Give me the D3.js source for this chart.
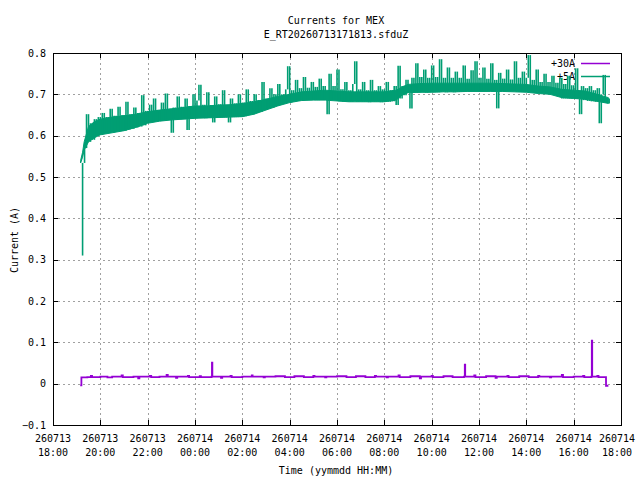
<!DOCTYPE html>
<html>
<head>
<meta charset="utf-8">
<script src="https://cdn.jsdelivr.net/npm/d3@7"></script>
<style>
  body { margin: 0; background: #fff; }
  text { font-family: "DejaVu Sans Mono", "Liberation Mono", monospace; font-size: 10px; fill: #000; }
</style>
</head>
<body>
<svg id="chart" width="640" height="480"></svg>
<script>
//DATA//////////////////////////////////
var titleLines = ["Currents for MEX", "E_RT20260713171813.sfduZ"];
var seriesNames = ["+30A", "+5A"];
var seriesColors = ["#9400d3", "#009e73"];
var yTicks = [-0.1, 0, 0.1, 0.2, 0.3, 0.4, 0.5, 0.6, 0.7, 0.8];
var tStart = new Date(2026, 6, 13, 18, 0);
var tEnd = new Date(2026, 6, 14, 18, 0);

// +5A current, one reading every 5 minutes from 260713 19:10
var plus5Start = new Date(2026, 6, 13, 19, 10);
var plus5 = [
  0.31, 0.534, 0.57, 0.652, 0.585, 0.63, 0.59, 0.64, 0.60, 0.645,                  // 19:10
  0.603, 0.655, 0.605, 0.645, 0.607, 0.665, 0.608, 0.648, 0.61, 0.67, 0.611, 0.65, // 20:00
  0.612, 0.682, 0.615, 0.652, 0.617, 0.668, 0.62, 0.655, 0.622, 0.698, 0.625, 0.66, // 21:00
  0.632, 0.675, 0.634, 0.69, 0.635, 0.662, 0.636, 0.68, 0.637, 0.702, 0.638, 0.665, // 22:00
  0.607, 0.668, 0.639, 0.695, 0.64, 0.67, 0.64, 0.69, 0.614, 0.672, 0.641, 0.70,   // 23:00
  0.642, 0.685, 0.723, 0.643, 0.675, 0.642, 0.705, 0.643, 0.674, 0.632, 0.695, 0.643, // 00:00
  0.676, 0.644, 0.71, 0.644, 0.674, 0.632, 0.69, 0.645, 0.678, 0.645, 0.70, 0.646, // 01:00
  0.68, 0.647, 0.712, 0.65, 0.684, 0.652, 0.70, 0.655, 0.686, 0.658, 0.73, 0.662,  // 02:00
  0.69, 0.666, 0.715, 0.668, 0.70, 0.672, 0.725, 0.675, 0.70, 0.678, 0.712, 0.768, // 03:00
  0.68, 0.71, 0.682, 0.735, 0.684, 0.715, 0.685, 0.742, 0.686, 0.716, 0.686, 0.73, // 04:00
  0.686, 0.718, 0.686, 0.738, 0.687, 0.72, 0.686, 0.652, 0.75, 0.686, 0.72, 0.686, // 05:00
  0.76, 0.683, 0.712, 0.682, 0.73, 0.682, 0.71, 0.682, 0.725, 0.78, 0.682, 0.712,  // 06:00
  0.682, 0.73, 0.682, 0.71, 0.681, 0.735, 0.682, 0.71, 0.682, 0.72, 0.681, 0.712,  // 07:00
  0.682, 0.73, 0.682, 0.71, 0.683, 0.72, 0.674, 0.769, 0.69, 0.72, 0.698, 0.735,   // 08:00
  0.704, 0.666, 0.74, 0.705, 0.775, 0.704, 0.742, 0.705, 0.76, 0.704, 0.74, 0.705, // 09:00
  0.77, 0.705, 0.742, 0.705, 0.785, 0.706, 0.74, 0.705, 0.765, 0.706, 0.74, 0.705, // 10:00
  0.755, 0.706, 0.74, 0.706, 0.77, 0.707, 0.738, 0.706, 0.758, 0.707, 0.78, 0.706, // 11:00
  0.74, 0.707, 0.765, 0.707, 0.738, 0.708, 0.775, 0.707, 0.735, 0.666, 0.752, 0.707, // 12:00
  0.738, 0.707, 0.76, 0.707, 0.736, 0.707, 0.78, 0.706, 0.74, 0.706, 0.755, 0.706, // 13:00
  0.74, 0.795, 0.705, 0.735, 0.704, 0.76, 0.703, 0.73, 0.702, 0.75, 0.701, 0.73,   // 14:00
  0.70, 0.745, 0.70, 0.728, 0.698, 0.74, 0.69, 0.725, 0.69, 0.745, 0.69, 0.722,    // 15:00
  0.69, 0.763, 0.689, 0.652, 0.72, 0.686, 0.715, 0.684, 0.72, 0.683, 0.71, 0.682,  // 16:00
  0.715, 0.63, 0.70, 0.747, 0.68, 0.69, 0.678                                     // 17:00
];

// dense core of the +5A trace: hours after 18:00, lower and upper edge (A)
var plus5BandHours = [1.17, 1.25, 1.33, 1.5, 1.75, 2.0, 2.5, 3.0, 3.5, 4.0, 4.5, 5.0, 5.5, 6.0, 6.5,
  7.0, 7.5, 8.0, 8.5, 9.0, 9.5, 10.0, 10.5, 11.0, 11.5, 12.0, 12.5, 13.0, 13.5, 14.0, 14.5, 14.75,
  15.0, 15.5, 16.0, 16.5, 17.0, 17.5, 18.0, 18.5, 19.0, 19.5, 20.0, 20.5, 21.0, 21.5, 22.0, 22.5,
  23.0, 23.48];
var plus5BandLo = [0.534, 0.548, 0.565, 0.585, 0.595, 0.602, 0.607, 0.612, 0.62, 0.63, 0.635, 0.638,
  0.64, 0.642, 0.643, 0.644, 0.645, 0.646, 0.652, 0.662, 0.672, 0.68, 0.685, 0.686, 0.686, 0.684,
  0.682, 0.682, 0.682, 0.682, 0.686, 0.698, 0.704, 0.705, 0.705, 0.706, 0.706, 0.707, 0.707, 0.707,
  0.707, 0.706, 0.705, 0.702, 0.70, 0.692, 0.69, 0.688, 0.683, 0.678];
var plus5BandHi = [0.54, 0.56, 0.585, 0.622, 0.634, 0.64, 0.645, 0.648, 0.652, 0.658, 0.662, 0.665,
  0.668, 0.672, 0.672, 0.674, 0.675, 0.678, 0.682, 0.688, 0.695, 0.70, 0.706, 0.708, 0.71, 0.708,
  0.706, 0.706, 0.706, 0.706, 0.71, 0.718, 0.724, 0.726, 0.727, 0.727, 0.727, 0.727, 0.727, 0.727,
  0.726, 0.725, 0.724, 0.72, 0.718, 0.712, 0.71, 0.708, 0.70, 0.692];

// +30A current, [hours after 260713 18:00, amps]
var plus30 = [
  [1.15, -0.004], [1.19, -0.004], [1.20, 0.015], [1.45, 0.016], [1.60, 0.019], [1.65, 0.016],
  [2.00, 0.017], [2.30, 0.015], [2.50, 0.017], [2.90, 0.020], [2.95, 0.016], [3.40, 0.017],
  [3.60, 0.013], [3.65, 0.017], [4.10, 0.019], [4.15, 0.016], [4.50, 0.017], [4.80, 0.021],
  [4.85, 0.017], [5.20, 0.014], [5.25, 0.017], [5.70, 0.019], [5.75, 0.016], [6.20, 0.018],
  [6.25, 0.016], [6.70, 0.017], [6.72, 0.051], [6.74, 0.017], [7.10, 0.014], [7.15, 0.017],
  [7.50, 0.019], [7.55, 0.016], [8.00, 0.017], [8.40, 0.020], [8.45, 0.017], [8.90, 0.015],
  [8.95, 0.017], [9.40, 0.018], [9.80, 0.016], [10.20, 0.018], [10.60, 0.016], [11.00, 0.019],
  [11.05, 0.017], [11.50, 0.015], [11.55, 0.017], [12.00, 0.018], [12.40, 0.016], [12.80, 0.018],
  [13.20, 0.016], [13.60, 0.019], [13.65, 0.017], [14.10, 0.015], [14.15, 0.017], [14.60, 0.020],
  [14.65, 0.016], [15.10, 0.018], [15.50, 0.013], [15.55, 0.017], [16.00, 0.019], [16.05, 0.016],
  [16.50, 0.018], [16.90, 0.016], [17.38, 0.017], [17.40, 0.046], [17.42, 0.017], [17.80, 0.020],
  [17.85, 0.016], [18.30, 0.018], [18.70, 0.014], [18.75, 0.017], [19.20, 0.019], [19.25, 0.016],
  [19.70, 0.018], [20.10, 0.016], [20.50, 0.019], [20.55, 0.017], [21.00, 0.015], [21.05, 0.017],
  [21.50, 0.021], [21.55, 0.016], [22.00, 0.017], [22.40, 0.019], [22.45, 0.016], [22.75, 0.017],
  [22.77, 0.104], [22.79, 0.017], [23.00, 0.019], [23.05, 0.016], [23.36, 0.016], [23.37, -0.005],
  [23.48, -0.005]
];

//SETUP/////////////////////////////////
var plotL = 53, plotR = 621, plotT = 53, plotB = 425;
var svg = d3.select("#chart");

var x = d3.scaleTime().domain([tStart, tEnd]).range([plotL, plotR]);
var y = d3.scaleLinear().domain([-0.1, 0.8]).range([plotB, plotT]);
var xTicks = d3.timeHour.every(2).range(tStart, d3.timeMinute.offset(tEnd, 1));
var fmtDay = d3.timeFormat("%y%m%d"), fmtTime = d3.timeFormat("%H:%M");
var fmtY = function (d) { return Math.abs(d) < 1e-9 ? "0" : d3.format(".1f")(d); };
var hourTime = function (h) { return d3.timeMinute.offset(tStart, h * 60); };

function px(v) { return Math.round(v) + 0.5; }

//GRID//////////////////////////////////
var grid = svg.append("g").attr("stroke", "#a0a0a0").attr("stroke-dasharray", "2,3").attr("stroke-width", 1);
grid.selectAll("line.gx").data(xTicks.slice(1, -1)).enter().append("line")
  .attr("x1", d => px(x(d))).attr("x2", d => px(x(d)))
  .attr("y1", plotT).attr("y2", plotB);
grid.selectAll("line.gy").data(yTicks.slice(1, -1)).enter().append("line")
  .attr("y1", d => px(y(d))).attr("y2", d => px(y(d)))
  .attr("x1", plotL).attr("x2", plotR);

//AXES//////////////////////////////////
var tickLines = svg.append("g").attr("stroke", "#000").attr("stroke-width", 1);
xTicks.forEach(function (d) {
  var xx = px(x(d));
  tickLines.append("line").attr("x1", xx).attr("x2", xx).attr("y1", plotB).attr("y2", plotB - 5);
  tickLines.append("line").attr("x1", xx).attr("x2", xx).attr("y1", plotT).attr("y2", plotT + 5);
});
yTicks.forEach(function (d) {
  var yy = px(y(d));
  tickLines.append("line").attr("y1", yy).attr("y2", yy).attr("x1", plotL).attr("x2", plotL + 5);
  tickLines.append("line").attr("y1", yy).attr("y2", yy).attr("x1", plotR).attr("x2", plotR - 5);
});
svg.append("rect")
  .attr("x", plotL + 0.5).attr("y", plotT + 0.5)
  .attr("width", plotR - plotL).attr("height", plotB - plotT)
  .attr("fill", "none").attr("stroke", "#000").attr("stroke-width", 1);

// tick labels
svg.selectAll("text.ylab").data(yTicks).enter().append("text")
  .attr("x", 46).attr("y", d => y(d) + 3.5)
  .attr("text-anchor", "end").text(fmtY);
// keep the last label inside the canvas, as the original does
var xLabelX = function (d) { return Math.min(x(d), 617); };
var xl = svg.selectAll("text.xlab").data(xTicks).enter().append("text")
  .attr("text-anchor", "middle");
xl.append("tspan").attr("x", xLabelX).attr("y", 442).text(fmtDay);
xl.append("tspan").attr("x", xLabelX).attr("y", 456).text(fmtTime);

// titles
svg.selectAll("text.title").data(titleLines).enter().append("text")
  .attr("x", 336).attr("y", (d, i) => 24 + i * 14)
  .attr("text-anchor", "middle").text(d => d);
svg.append("text").attr("x", 336).attr("y", 474).attr("text-anchor", "middle").text("Time (yymmdd HH:MM)");
svg.append("text").attr("transform", "translate(18,240) rotate(-90)")
  .attr("text-anchor", "middle").text("Current (A)");

//LEGEND////////////////////////////////
seriesNames.forEach(function (name, i) {
  var ly = 63.5 + i * 13;
  svg.append("text").attr("x", 575).attr("y", ly + 3.5).attr("text-anchor", "end").text(name);
  svg.append("line").attr("x1", 581).attr("x2", 610).attr("y1", ly).attr("y2", ly)
    .attr("stroke", seriesColors[i]).attr("stroke-width", 1.5);
});

//SERIES////////////////////////////////
var line30 = d3.line()
  .x(d => x(hourTime(d[0])))
  .y(d => y(d[1]))
  .curve(d3.curveStepAfter);
svg.append("path").datum(plus30)
  .attr("d", line30).attr("fill", "none")
  .attr("stroke", seriesColors[0]).attr("stroke-width", 1.8);

var band5 = d3.area()
  .x(d => x(hourTime(d)))
  .y0((d, i) => y(plus5BandLo[i]))
  .y1((d, i) => y(plus5BandHi[i]));
svg.append("path").datum(plus5BandHours)
  .attr("d", band5).attr("fill", seriesColors[1])
  .attr("stroke", seriesColors[1]).attr("stroke-width", 1);

// each reading drawn as the vertical jump from the previous one
var t5 = (d, i) => x(d3.timeMinute.offset(plus5Start, i * 5));
svg.append("g").attr("stroke", seriesColors[1]).attr("stroke-width", 1.6)
  .selectAll("line").data(plus5.slice(1)).enter().append("line")
  .attr("x1", (d, i) => t5(d, i + 1)).attr("x2", (d, i) => t5(d, i + 1))
  .attr("y1", (d, i) => y(plus5[i])).attr("y2", d => y(d));
</script>
</body>
</html>
